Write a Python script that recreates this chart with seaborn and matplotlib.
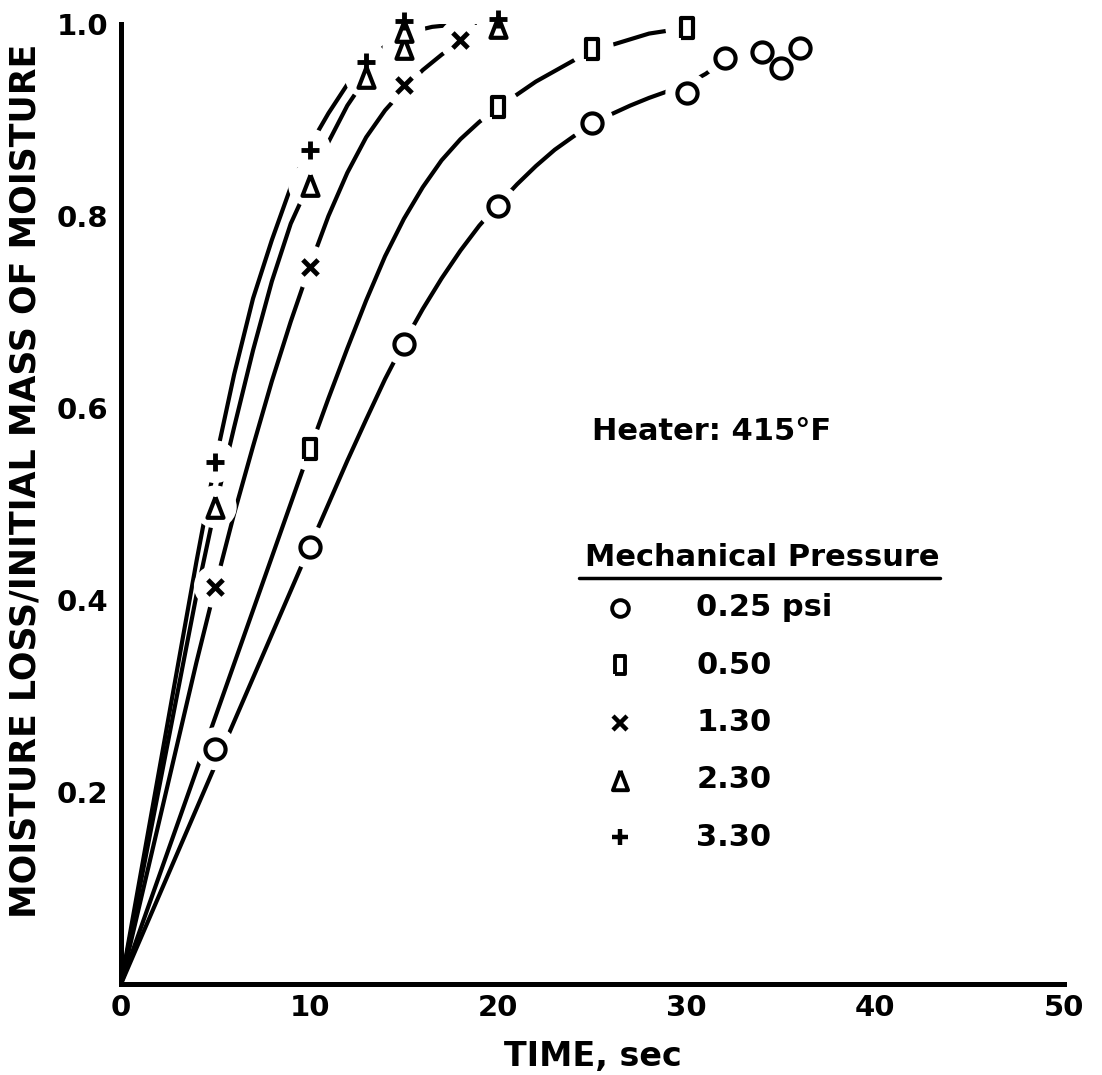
import matplotlib
matplotlib.use("Agg")
import matplotlib.pyplot as plt
import seaborn as sns

time_025 = [5, 10, 15, 20, 25, 30, 32, 34, 35, 36]
loss_025 = [0.245, 0.455, 0.667, 0.81, 0.897, 0.928, 0.965, 0.971, 0.954, 0.975]
time_050 = [10, 20, 25, 30]
loss_050 = [0.557, 0.913, 0.974, 0.996]
time_130 = [5, 10, 15, 18]
loss_130 = [0.414, 0.747, 0.936, 0.983]
time_230 = [5, 10, 13, 15, 15, 20]
loss_230 = [0.497, 0.832, 0.945, 0.975, 0.993, 0.997]
time_330 = [5, 10, 13, 15, 20]
loss_330 = [0.544, 0.869, 0.96, 1.003, 1.005]

# hand-drawn fitted curves
fit_t_025 = [0, 5, 10, 12, 13, 14, 15, 16, 17, 18, 19, 20, 21, 22, 23, 24, 25,
             26, 27, 28, 29, 30, 31, 32]
fit_v_025 = [0, 0.228, 0.455, 0.545, 0.588, 0.63, 0.668, 0.703, 0.735, 0.764,
             0.79, 0.812, 0.833, 0.852, 0.869, 0.883, 0.895, 0.906, 0.915,
             0.923, 0.93, 0.937, 0.948, 0.962]
fit_t_050 = [0, 5, 10, 11, 12, 13, 14, 15, 16, 17, 18, 19, 20, 22, 24, 26, 28, 30]
fit_v_050 = [0, 0.278, 0.556, 0.61, 0.662, 0.712, 0.758, 0.797, 0.83, 0.858,
             0.88, 0.898, 0.913, 0.94, 0.962, 0.978, 0.99, 0.996]
fit_t_130 = [0, 4, 5, 6, 7, 8, 9, 10, 11, 12, 13, 14, 15, 16, 17, 18]
fit_v_130 = [0, 0.335, 0.414, 0.49, 0.56, 0.628, 0.69, 0.747, 0.8, 0.845, 0.882,
             0.91, 0.932, 0.952, 0.968, 0.982]
fit_t_230 = [0, 4, 5, 6, 7, 8, 9, 10, 11, 12, 13, 14, 15]
fit_v_230 = [0, 0.405, 0.497, 0.58, 0.66, 0.732, 0.792, 0.835, 0.877, 0.915,
             0.944, 0.965, 0.98]
fit_t_330 = [0, 4, 5, 6, 7, 8, 9, 10, 11, 12, 13, 14, 15, 16.5, 18, 20]
fit_v_330 = [0, 0.44, 0.544, 0.635, 0.714, 0.775, 0.83, 0.873, 0.907, 0.937,
             0.96, 0.977, 0.99, 0.997, 1.0, 1.003]

pressure_labels = ["0.25 psi", "0.50", "1.30", "2.30", "3.30"]
x_ticks = [0, 10, 20, 30, 40, 50]
y_ticks = [0.2, 0.4, 0.6, 0.8, 1.0]

tall_square = [(-0.6, -1), (0.6, -1), (0.6, 1), (-0.6, 1), (-0.6, -1)]
tall_triangle = [(0, 1), (-0.78, -1), (0.78, -1), (0, 1)]

series = [
    (time_025, loss_025, fit_t_025, fit_v_025, "o", 210, True),
    (time_050, loss_050, fit_t_050, fit_v_050, tall_square, 200, True),
    (time_130, loss_130, fit_t_130, fit_v_130, "x", 120, False),
    (time_230, loss_230, fit_t_230, fit_v_230, tall_triangle, 220, True),
    (time_330, loss_330, fit_t_330, fit_v_330, "+", 150, False),
]

sns.set_style("white")
plt.rcParams["font.family"] = ["DejaVu Sans"]
plt.rcParams["font.weight"] = "bold"
plt.rcParams["text.color"] = "black"
plt.rcParams["axes.labelcolor"] = "black"

fig = plt.figure(figsize=(11.02, 10.75), dpi=100)
ax = fig.add_axes([0.1098, 0.0847, 0.8557, 0.893])

for t, v, ft, fv, mk, s, filled in series:
    sns.lineplot(x=ft, y=fv, ax=ax, color="black", lw=3, sort=False,
                 estimator=None, zorder=2)

# white halos so the curves break around every point
for t, v, ft, fv, mk, s, filled in series:
    sns.scatterplot(x=t, y=v, ax=ax, marker="o", s=950, color="white",
                    edgecolor="none", linewidth=0, zorder=3, clip_on=False)

for t, v, ft, fv, mk, s, filled in series:
    if filled:
        sns.scatterplot(x=t, y=v, ax=ax, marker=mk, s=s, facecolor="white",
                        edgecolor="black", linewidth=3, zorder=4, clip_on=False)
    else:
        sns.scatterplot(x=t, y=v, ax=ax, marker=mk, s=s, color="black",
                        linewidth=3.5, zorder=4, clip_on=False)

ax.set_xlim(0, 50)
ax.set_ylim(0, 1.0)
ax.set_xticks(x_ticks)
ax.set_xticklabels([str(x) for x in x_ticks])
ax.set_yticks(y_ticks)
ax.set_yticklabels([f"{y:.1f}" for y in y_ticks])

for side in ["top", "right"]:
    ax.spines[side].set_visible(False)
for side in ["left", "bottom"]:
    ax.spines[side].set_linewidth(3.6)
    ax.spines[side].set_color("black")

ax.tick_params(axis="x", direction="in", length=18, width=1.8, pad=7,
               labelsize=21, colors="black")
ax.tick_params(axis="y", direction="in", length=14, width=1.8, pad=9,
               labelsize=21, colors="black")

ax.set_xlabel("TIME, sec", fontsize=24, fontweight="bold")
ax.set_ylabel("MOISTURE LOSS/INITIAL MASS OF MOISTURE", fontsize=25,
              fontweight="bold")
ax.xaxis.set_label_coords(0.5, -0.058)
ax.yaxis.set_label_coords(-0.083, 0.524)

ax.text(25.0, 0.575, "Heater: 415°F", fontsize=22, fontweight="bold",
        ha="left", va="center")
ax.text(24.6, 0.444, "Mechanical Pressure", fontsize=22, fontweight="bold",
        ha="left", va="center")
ax.plot([24.3, 43.4], [0.423, 0.423], color="black", lw=2.5, clip_on=False)

key_rows = [0.392, 0.332, 0.272, 0.2125, 0.153]
key_marks = [("o", 12, True), (tall_square, 13, True), ("x", 10, False),
             (tall_triangle, 14, True), ("+", 12, False)]
for row, (mk, ms, filled), label in zip(key_rows, key_marks, pressure_labels):
    if filled:
        ax.plot([26.46], [row], marker=mk, ms=ms, mfc="white", mec="black",
                mew=2.8, clip_on=False)
    else:
        ax.plot([26.46], [row], marker=mk, ms=ms, color="black", mew=3.2,
                clip_on=False)
    ax.text(30.5, row, label, fontsize=22, fontweight="bold", ha="left",
            va="center")

fig.savefig("out.png", dpi=100)
